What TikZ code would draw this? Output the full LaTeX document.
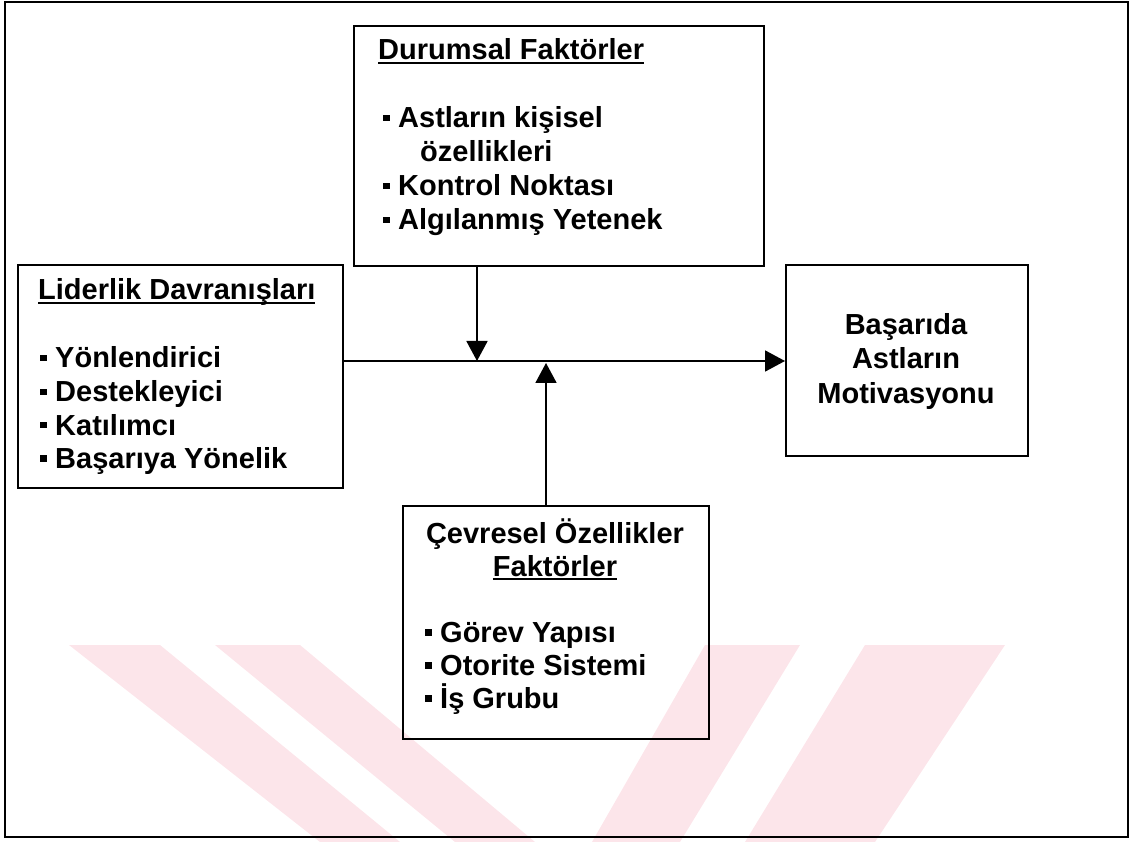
\documentclass[tikz,border=0pt]{standalone}
\usepackage{fontspec}
\setmainfont{Liberation Sans}
\usetikzlibrary{arrows.meta}
\definecolor{wm}{RGB}{252,229,234}
\newcommand{\myul}[1]{\setbox0\hbox{#1}\rlap{\rule[-4pt]{\wd0}{2.4pt}}\box0}
\newcommand{\blt}{\makebox[15pt][l]{\rule[6.5pt]{6.5pt}{6.5pt}}}
\begin{document}
\begin{tikzpicture}[x=1pt,y=-1pt,
  every node/.style={font=\fontsize{29}{34}\selectfont\bfseries},
  box/.style={draw, line width=1.8pt, inner sep=0pt, anchor=north west},
  txt/.style={anchor=base west, inner sep=0pt},
  ctxt/.style={anchor=base, inner sep=0pt},
  conn/.style={line width=1.8pt},
  tip/.style={-{Triangle[length=20pt,width=21pt]}}]
\useasboundingbox (0,0) rectangle (1133,842);
% watermark
\fill[wm] (69,645) -- (160,645) -- (400,842) -- (320,842) -- cycle;
\fill[wm] (215,645) -- (300,645) -- (535,842) -- (455,842) -- cycle;
\fill[wm] (705,645) -- (800,645) -- (680,842) -- (592,842) -- cycle;
\fill[wm] (865,645) -- (1005,645) -- (875,842) -- (745,842) -- cycle;
% frame
\draw[line width=1.8pt] (5,2) rectangle (1128,837);
% boxes
\node[box, minimum width=325pt, minimum height=223pt] (lid) at (17,264) {};
\node[box, minimum width=410pt, minimum height=240pt] (dur) at (353,25) {};
\node[box, minimum width=242pt, minimum height=191pt] (bas) at (785,264) {};
\node[box, minimum width=306pt, minimum height=233pt] (cev) at (402,505) {};
% texts
\node[txt] (lidt) at (38,300) {\myul{Liderlik Davranışları}};
\node[txt] (lid1) at (40,368) {\blt Yönlendirici};
\node[txt] (lid2) at (40,402) {\blt Destekleyici};
\node[txt] (lid3) at (40,435) {\blt Katılımcı};
\node[txt] (lid4) at (40,468) {\blt Başarıya Yönelik};
\node[txt] (durt) at (378,60) {\myul{Durumsal Faktörler}};
\node[txt] (dur1) at (383,128) {\blt Astların kişisel};
\node[txt] (dur1b) at (420,162) {özellikleri};
\node[txt] (dur2) at (383,196) {\blt Kontrol Noktası};
\node[txt] (dur3) at (383,230) {\blt Algılanmış Yetenek};
\node[ctxt] (bas1) at (906,335) {Başarıda};
\node[ctxt] (bas2) at (906,369) {Astların};
\node[ctxt] (bas3) at (906,403) {Motivasyonu};
\node[ctxt] (cevt1) at (555,543) {Çevresel Özellikler};
\node[ctxt] (cevt2) at (555,576) {\myul{Faktörler}};
\node[txt] (cev1) at (425,642) {\blt Görev Yapısı};
\node[txt] (cev2) at (425,675) {\blt Otorite Sistemi};
\node[txt] (cev3) at (425,708) {\blt İş Grubu};
% connectors
\coordinate (hy) at (0,361);
\coordinate (dx) at (477,361);
\coordinate (ux) at (546,363);
\draw[conn,tip] (lid.east |- hy) -- (bas.west |- hy);
\draw[conn,tip] (dur.south -| dx) -- (dx);
\draw[conn,tip] (cev.north -| ux) -- (ux);
\end{tikzpicture}
\end{document}
